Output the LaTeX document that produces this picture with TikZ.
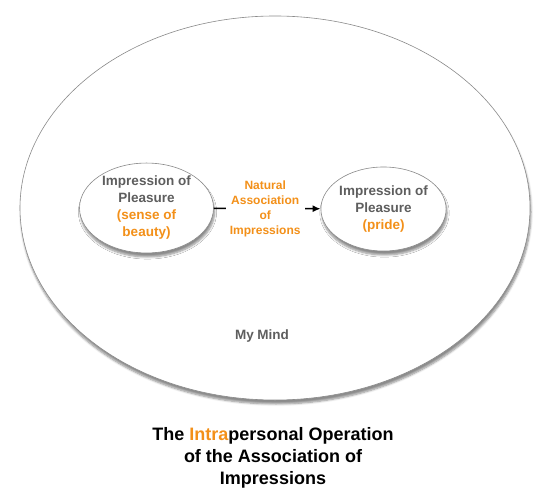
\documentclass[tikz,border=0pt]{standalone}
\usepackage{fontspec}
\setmainfont{Liberation Sans}
\usetikzlibrary{shapes.geometric,arrows.meta,shadows.blur}
\definecolor{hgray}{HTML}{5E5E5E}
\definecolor{horange}{HTML}{F39019}
\definecolor{hborder}{HTML}{8A8A8A}
\tikzset{
  bubble/.style={ellipse, draw=hborder, line width=0.6pt, fill=white, inner sep=0pt,
    blur shadow={shadow xshift=1pt, shadow yshift=-4pt, shadow blur steps=6, shadow opacity=45}},
  nodetext/.style={align=center, text=hgray, font=\fontsize{13.5}{17}\selectfont\bfseries},
  edgelabel/.style={align=center, text=horange, fill=white, inner xsep=4pt, inner ysep=2pt,
    font=\fontsize{12}{15}\selectfont\bfseries},
}
\begin{document}
\begin{tikzpicture}[x=1pt,y=1pt]
\useasboundingbox (0,0) rectangle (545,501);
\node[bubble, minimum width=510pt, minimum height=384pt] (mind) at (275,293) {};
\node[bubble, nodetext, minimum width=134pt, minimum height=84pt] (pleasure1) at (146.5,293)
  {Impression of\\Pleasure\\\textcolor{horange}{(sense of}\\\textcolor{horange}{beauty)}};
\node[bubble, nodetext, minimum width=125pt, minimum height=84pt] (pleasure2) at (383.5,292)
  {Impression of\\Pleasure\\\textcolor{horange}{(pride)}};
\draw[line width=1.5pt, -{Latex[length=8pt,width=7pt]}] (pleasure1) -- node[edgelabel, xshift=-2pt]
  {Natural\\Association\\of\\Impressions} (pleasure2);
\node[text=hgray, font=\fontsize{13.5}{15}\selectfont\bfseries] (mindlabel) at (262,165) {My Mind};
\node[align=center, font=\fontsize{18}{22}\selectfont\bfseries] (title) at (273,43)
  {The \textcolor{horange}{Intra}personal Operation\\of the Association of\\Impressions};
\end{tikzpicture}
\end{document}
